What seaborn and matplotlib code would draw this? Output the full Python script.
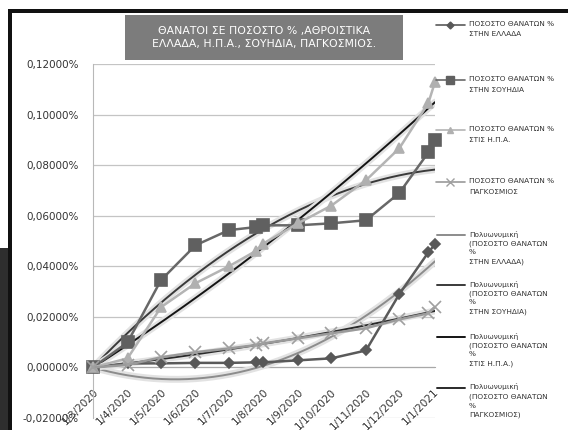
import numpy as np
import pandas as pd
import matplotlib
matplotlib.use("Agg")
import matplotlib.pyplot as plt
import matplotlib.patheffects as pe
from matplotlib.lines import Line2D
from matplotlib.patches import Rectangle
import seaborn as sns

# cumulative deaths as % of population
dates = ["1/3/2020", "1/4/2020", "1/5/2020", "1/6/2020", "1/7/2020", "25/7/2020",
         "1/8/2020", "1/9/2020", "1/10/2020", "1/11/2020", "1/12/2020",
         "27/12/2020", "2/1/2021"]
greece = [0, 0.0016, 0.0016, 0.0018, 0.0018, 0.0020, 0.0020, 0.0028, 0.0036,
          0.0067, 0.0290, 0.0455, 0.0487]
sweden = [0, 0.0099, 0.0345, 0.0483, 0.0543, 0.0555, 0.0562, 0.0562, 0.0570,
          0.0582, 0.0690, 0.0850, 0.0899]
usa = [0, 0.0036, 0.0238, 0.0333, 0.0400, 0.0460, 0.0490, 0.0570, 0.0640,
       0.0740, 0.0867, 0.1045, 0.1129]
world = [0, 0.0010, 0.0040, 0.0060, 0.0075, 0.0088, 0.0095, 0.0115, 0.0135,
         0.0155, 0.0190, 0.0214, 0.0238]

tick_dates = ["1/3/2020", "1/4/2020", "1/5/2020", "1/6/2020", "1/7/2020",
              "1/8/2020", "1/9/2020", "1/10/2020", "1/11/2020", "1/12/2020",
              "1/1/2021"]
y_ticks = [-0.02, 0.0, 0.02, 0.04, 0.06, 0.08, 0.10, 0.12]

title = "ΘΑΝΑΤΟΙ ΣΕ ΠΟΣΟΣΤΟ % ,ΑΘΡΟΙΣΤΙΚΑ\nΕΛΛΑΔΑ, Η.Π.Α., ΣΟΥΗΔΙΑ, ΠΑΓΚΟΣΜΙΟΣ."
series_labels = ["ΠΟΣΟΣΤΟ ΘΑΝΑΤΩΝ %\nΣΤΗΝ ΕΛΛΑΔΑ",
                 "ΠΟΣΟΣΤΟ ΘΑΝΑΤΩΝ %\nΣΤΗΝ ΣΟΥΗΔΙΑ",
                 "ΠΟΣΟΣΤΟ ΘΑΝΑΤΩΝ %\nΣΤΙΣ Η.Π.Α.",
                 "ΠΟΣΟΣΤΟ ΘΑΝΑΤΩΝ %\nΠΑΓΚΟΣΜΙΟΣ"]
trend_labels = ["Πολυωνυμική\n(ΠΟΣΟΣΤΟ ΘΑΝΑΤΩΝ\n%\nΣΤΗΝ ΕΛΛΑΔΑ)",
                "Πολυωνυμική\n(ΠΟΣΟΣΤΟ ΘΑΝΑΤΩΝ\n%\nΣΤΗΝ ΣΟΥΗΔΙΑ)",
                "Πολυωνυμική\n(ΠΟΣΟΣΤΟ ΘΑΝΑΤΩΝ\n%\nΣΤΙΣ Η.Π.Α.)",
                "Πολυωνυμική\n(ΠΟΣΟΣΤΟ ΘΑΝΑΤΩΝ\n%\nΠΑΓΚΟΣΜΙΟΣ)"]

sns.set_style("white")
plt.rcParams["font.family"] = ["DejaVu Sans"]

start = pd.to_datetime(dates[0], dayfirst=True)
days = np.array([(pd.to_datetime(d, dayfirst=True) - start).days for d in dates], dtype=float)
tick_days = [(pd.to_datetime(d, dayfirst=True) - start).days for d in tick_dates]

W, H = 568, 430
fig = plt.figure(figsize=(W / 100, H / 100), dpi=100)
ax = fig.add_axes([93 / W, 1 - 418 / H, (435 - 93) / W, (418 - 64) / H])

def fx(x):
    return x / W

def fy(y):
    return 1 - y / H

def poly_trend(x, y):
    # 2nd order polynomial trendline with intercept forced to 0 (as in Excel)
    A = np.column_stack([x, x ** 2])
    coef = np.linalg.lstsq(A, np.asarray(y), rcond=None)[0]
    xs = np.linspace(0, x[-1], 200)
    return xs, coef[0] * xs + coef[1] * xs ** 2

glow = [pe.Stroke(linewidth=5, foreground="#e2e2e2"), pe.Normal()]

# data series: (values, marker, size, line colour, marker colour)
styles = [
    (greece, "D", 5, "#5a5a5a", "#585858"),
    (sweden, "s", 8, "#686868", "#606060"),
    (usa, "^", 7, "#b4b4b4", "#b0b0b0"),
    (world, "x", 8, "#9a9a9a", "#a0a0a0"),
]
trend_colors = ["#8c8c8c", "#3a3a3a", "#141414", "#2a2a2a"]

for (vals, mk, ms, lc, mc), tc in zip(styles, trend_colors):
    xs, ys = poly_trend(days, vals)
    sns.lineplot(x=xs, y=ys, ax=ax, color=tc, lw=1.4, zorder=3,
                 path_effects=glow)

for vals, mk, ms, lc, mc in styles:
    sns.lineplot(x=days, y=vals, ax=ax, color=lc, lw=1.8, marker=mk,
                 markersize=ms, markerfacecolor=mc, markeredgecolor=mc,
                 markeredgewidth=1.2, zorder=4, clip_on=False)

ax.spines["bottom"].set_position(("data", 0))
ax.set_xlim(0, days[-1])
ax.set_ylim(-0.02, 0.12)
ax.set_yticks(y_ticks)
ax.set_yticklabels([f"{v:.5f}%".replace(".", ",") for v in y_ticks],
                   fontsize=7.5, color="#333333")
ax.set_xticks(tick_days)
ax.set_xticklabels(tick_dates, rotation=45, ha="right", rotation_mode="anchor",
                   fontsize=7.5, color="#333333")
ax.set_xlabel("")
ax.set_ylabel("")

ax.grid(axis="y", color="#c4c4c4", lw=0.9)
ax.grid(axis="x", visible=False)
ax.set_axisbelow(True)
for s in ["top", "right"]:
    ax.spines[s].set_visible(False)
ax.spines["left"].set_color("#b8b8b8")
ax.spines["bottom"].set_color("#a8a8a8")
ax.tick_params(axis="y", length=4, color="#b8b8b8", pad=6)
ax.tick_params(axis="x", length=5, color="#a8a8a8", pad=9)

# title box
fig.patches.append(Rectangle((fx(125), fy(60)), fx(403 - 125), (60 - 15) / H,
                             transform=fig.transFigure, facecolor="#7c7c7c",
                             edgecolor="none", zorder=5))
fig.text(fx(264), fy(37.5), title, ha="center", va="center", fontsize=7.8,
         color="white", linespacing=1.45, zorder=6)

# legend on the right, drawn entry by entry
marker_rows = [25, 80, 130, 182]
for (vals, mk, ms, lc, mc), lab, yy in zip(styles, series_labels, marker_rows):
    fig.lines.append(Line2D([fx(436), fx(465)], [fy(yy), fy(yy)],
                            transform=fig.transFigure, color=lc, lw=1.2))
    fig.lines.append(Line2D([fx(450)], [fy(yy)], transform=fig.transFigure,
                            marker=mk, markersize=ms * 0.7, color=mc,
                            markeredgewidth=1))
    fig.text(fx(469), fy(yy - 4), lab, ha="left", va="top", fontsize=5.3,
             color="#333333", linespacing=1.9)

trend_rows = [235, 285, 337, 388]
for tc, lab, yy in zip(trend_colors, trend_labels, trend_rows):
    fig.lines.append(Line2D([fx(437), fx(465)], [fy(yy), fy(yy)],
                            transform=fig.transFigure, color=tc, lw=1.4))
    fig.text(fx(469), fy(yy - 4.5), lab, ha="left", va="top", fontsize=5.3,
             color="#333333", linespacing=1.55)

# scanned page frame
fig.patches.append(Rectangle((fx(8), fy(13)), fx(W - 8), 4 / H,
                             transform=fig.transFigure, facecolor="#111111",
                             edgecolor="none", zorder=7))
fig.patches.append(Rectangle((fx(8), 0), fx(4), fy(9),
                             transform=fig.transFigure, facecolor="#111111",
                             edgecolor="none", zorder=7))
fig.patches.append(Rectangle((0, 0), fx(8), fy(248),
                             transform=fig.transFigure, facecolor="#2e2e2e",
                             edgecolor="none", zorder=7))

fig.savefig("out.png", dpi=100)
